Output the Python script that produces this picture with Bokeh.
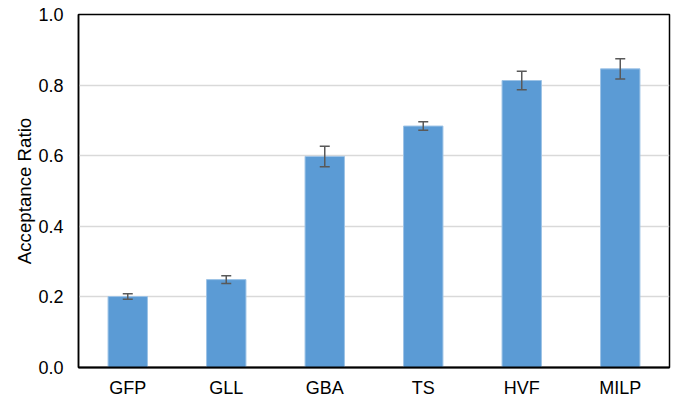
from bokeh.plotting import figure
from bokeh.models import ColumnDataSource, Range1d, Whisker, TeeHead, PrintfTickFormatter, FixedTicker
from bokeh.embed import file_html
from bokeh.resources import INLINE

categories = ["GFP", "GLL", "GBA", "TS", "HVF", "MILP"]
values = [0.201, 0.249, 0.598, 0.684, 0.813, 0.846]
errors = [0.008, 0.011, 0.029, 0.012, 0.026, 0.029]
y_ticks = [0.0, 0.2, 0.4, 0.6, 0.8, 1.0]

source = ColumnDataSource(data=dict(
    cat=categories,
    val=values,
    upper=[v + e for v, e in zip(values, errors)],
    lower=[v - e for v, e in zip(values, errors)],
))

p = figure(x_range=categories, width=672, height=400, output_backend="svg",
           toolbar_location=None, min_border_left=78, min_border_right=3,
           min_border_top=14, min_border_bottom=26)
p.y_range = Range1d(0, 1.0)

p.vbar(x="cat", top="val", width=0.4, source=source,
       fill_color="#5B9BD5", line_color="#9DC3E6", line_width=1)

w = Whisker(source=source, base="cat", upper="upper", lower="lower",
            line_color="#595959", line_width=1.5, level="overlay",
            upper_head=TeeHead(size=10, line_color="#595959", line_width=1.5),
            lower_head=TeeHead(size=10, line_color="#595959", line_width=1.5))
p.add_layout(w)

font = "Liberation Sans"
p.yaxis.ticker = FixedTicker(ticks=y_ticks)
p.yaxis.formatter = PrintfTickFormatter(format="%.1f")
p.yaxis.axis_label = "Acceptance Ratio"
p.yaxis.axis_label_text_font = font
p.yaxis.axis_label_text_font_size = "18.7px"
p.yaxis.axis_label_text_font_style = "normal"
p.yaxis.axis_label_text_color = "#000000"
p.yaxis.axis_label_standoff = 0

for ax in (p.xaxis, p.yaxis):
    ax.major_label_text_font = font
    ax.major_label_text_font_size = "18px"
    ax.major_label_text_color = "#000000"
    ax.major_tick_line_color = None
    ax.minor_tick_line_color = None
    ax.axis_line_color = "#000000"

p.yaxis.major_label_standoff = 9
p.xaxis.major_label_standoff = 4
p.xaxis.axis_line_width = 2
p.yaxis.axis_line_width = 1.5

p.xgrid.grid_line_color = None
p.ygrid.grid_line_color = "#D9D9D9"
p.ygrid.grid_line_width = 1.5
p.ygrid.ticker = FixedTicker(ticks=[0.2, 0.4, 0.6, 0.8])

p.outline_line_color = "#000000"
p.outline_line_width = 1.5
p.outline_line_alpha = 1.0

open("out.html", "w").write(file_html(p, INLINE))
